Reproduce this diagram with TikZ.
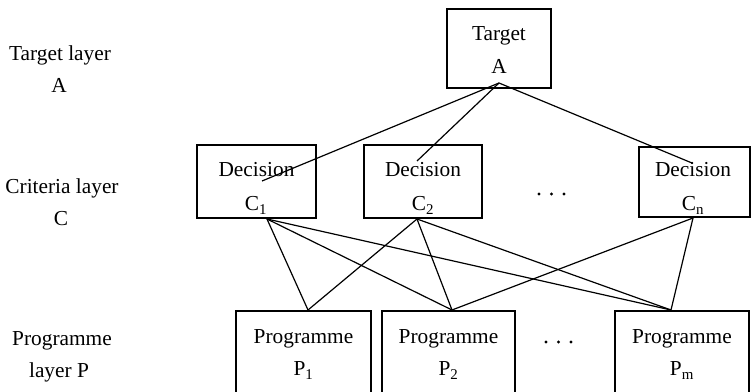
\documentclass[tikz,border=0pt]{standalone}
\usepackage{fontspec}
\setmainfont{Liberation Serif}
\begin{document}
\begin{tikzpicture}[x=0.75pt,y=-0.75pt,
  box/.style={draw=black,line width=1pt,fill=none},
  lbl/.style={anchor=base,inner sep=0pt,font=\fontsize{16}{19}\selectfont},
  link/.style={draw=black,line width=0.9pt},
  dot/.style={circle,fill=black,inner sep=0pt,minimum size=2.6pt}]
\useasboundingbox (0,0) rectangle (751,392);
\clip (0,0) rectangle (751,392);

% boxes
\node[box,minimum width=104*0.75pt,minimum height=79*0.75pt] (tgt) at (499,48.5) {};
\node[box,minimum width=119*0.75pt,minimum height=73*0.75pt] (c1) at (256.5,181.5) {};
\node[box,minimum width=118*0.75pt,minimum height=73*0.75pt] (c2) at (423,181.5) {};
\node[box,minimum width=111*0.75pt,minimum height=70*0.75pt] (cn) at (694.5,182) {};
\node[box,minimum width=135*0.75pt,minimum height=84*0.75pt] (p1) at (303.5,353) {};
\node[box,minimum width=133*0.75pt,minimum height=84*0.75pt] (p2) at (448.5,353) {};
\node[box,minimum width=134*0.75pt,minimum height=84*0.75pt] (pm) at (682,353) {};

% texts in boxes
\node[lbl] (tgt1) at (499,41) {Target};
\node[lbl] (tgt2) at (499,74) {A};
\node[lbl] (c1a) at (256.5,177) {Decision};
\node[lbl] (c1b) at (256,211) {C\textsubscript{1}};
\node[lbl] (c2a) at (423,177) {Decision};
\node[lbl] (c2b) at (423,211) {C\textsubscript{2}};
\node[lbl] (cna) at (693,177) {Decision};
\node[lbl] (cnb) at (693,211) {C\textsubscript{n}};
\node[lbl] (p1a) at (303.5,344) {Programme};
\node[lbl] (p1b) at (303.5,376) {P\textsubscript{1}};
\node[lbl] (p2a) at (448.5,344) {Programme};
\node[lbl] (p2b) at (448.5,376) {P\textsubscript{2}};
\node[lbl] (pma) at (682,344) {Programme};
\node[lbl] (pmb) at (682,376) {P\textsubscript{m}};

% layer names
\node[lbl] (la1) at (60,61) {Target layer};
\node[lbl] (la2) at (59,93) {A};
\node[lbl] (lc1) at (62,194) {Criteria layer};
\node[lbl] (lc2) at (61,226) {C};
\node[lbl] (lp1) at (62,346) {Programme};
\node[lbl] (lp2) at (59,378) {layer P};

% ellipses
\node[dot] (dc1) at (539,194) {};
\node[dot] (dc2) at (551.5,194) {};
\node[dot] (dc3) at (564,194) {};
\node[dot] (dp1) at (546,342) {};
\node[dot] (dp2) at (558.5,342) {};
\node[dot] (dp3) at (571,342) {};

% junction points
\coordinate (tA) at (499,83);
\coordinate (c1in) at (262,181);
\coordinate (c2in) at (417,161);
\coordinate (cnin) at (692,163);
\coordinate (c1out) at (267,219);
\coordinate (c2out) at (417,219);
\coordinate (cnout) at (693,218);
\coordinate (p1in) at (308,310);
\coordinate (p2in) at (452,310);
\coordinate (pmin) at (671,310);

% connectors
\draw[link] (tA) -- (c1in);
\draw[link] (tA) -- (c2in);
\draw[link] (tA) -- (cnin);
\draw[link] (c1out) -- (p1in);
\draw[link] (c1out) -- (p2in);
\draw[link] (c1out) -- (pmin);
\draw[link] (c2out) -- (p1in);
\draw[link] (c2out) -- (p2in);
\draw[link] (c2out) -- (pmin);
\draw[link] (cnout) -- (p2in);
\draw[link] (cnout) -- (pmin);
\end{tikzpicture}
\end{document}
